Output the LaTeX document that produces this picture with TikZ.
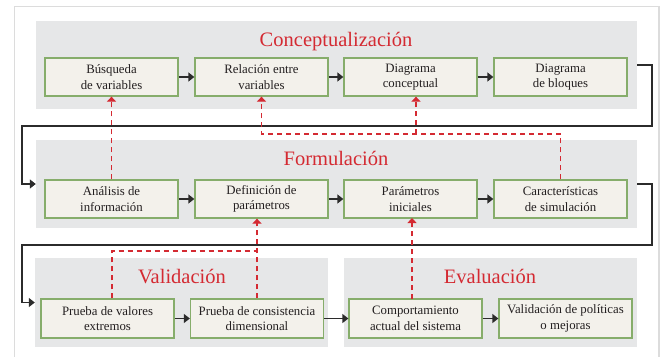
\documentclass[tikz,border=0pt]{standalone}
\usepackage{fontspec}
\setmainfont{Liberation Serif}
\usetikzlibrary{arrows.meta}
\definecolor{panelgray}{HTML}{E6E7E8}
\definecolor{boxfill}{HTML}{F3F1EB}
\definecolor{boxgreen}{HTML}{86AD6B}
\definecolor{titlered}{HTML}{D42A32}
\definecolor{framegray}{HTML}{DCDCDC}
\definecolor{linedark}{HTML}{2B2B2B}
\definecolor{textdark}{HTML}{231F20}
\begin{document}
\begin{tikzpicture}[x=1pt,y=-1pt,
  panel/.style={fill=panelgray, draw=none, inner sep=0pt},
  stepbox/.style={draw=boxgreen, fill=boxfill, line width=1.3pt, minimum width=133pt, minimum height=38pt, inner sep=0pt, align=center, font=\fontsize{12.8}{15.5}\selectfont, text=textdark},
  title/.style={text=titlered, font=\fontsize{20.5}{24}\selectfont, inner sep=0pt, anchor=base},
  flow/.style={draw=linedark, line width=1.3pt, -{Triangle[length=6pt,width=9pt]}},
  feedline/.style={draw=titlered, line width=1.2pt, dash pattern=on 5pt off 4pt},
  feedback/.style={feedline, -{Triangle[length=5pt,width=9pt]}},
]
\useasboundingbox (0,0) rectangle (660,356);
\draw[framegray, line width=1.5pt] (14.5,358) -- (14.5,6.5) -- (659,6.5) -- (659,358);

% panels
\node[panel, minimum width=601pt, minimum height=88pt] (p1) at (336.5,65) {};
\node[panel, minimum width=601pt, minimum height=88pt] (p2) at (336.5,184) {};
\node[panel, minimum width=293pt, minimum height=89pt] (p3) at (181.5,302.5) {};
\node[panel, minimum width=293pt, minimum height=89pt] (p4) at (490.5,302.5) {};

% titles
\node[title] (t1) at (336,46.5) {Conceptualización};
\node[title] (t2) at (336,165) {Formulación};
\node[title] (t3) at (182,283.3) {Validación};
\node[title] (t4) at (490,283.3) {Evaluación};

% row 1
\node[stepbox] (a1) at (111.5,77) {Búsqueda\\de variables};
\node[stepbox] (a2) at (261.5,77) {Relación entre\\variables};
\node[stepbox] (a3) at (410.5,77) {Diagrama\\conceptual};
\node[stepbox] (a4) at (560.5,77) {Diagrama\\de bloques};

% row 2
\node[stepbox] (b1) at (111.5,199) {Análisis de\\información};
\node[stepbox] (b2) at (261.5,199) {Definición de\\parámetros};
\node[stepbox] (b3) at (410.5,199) {Parámetros\\iniciales};
\node[stepbox] (b4) at (560.5,199) {Características\\de simulación};

% row 3
\node[stepbox, minimum height=39pt] (c1) at (107.5,318.5) {Prueba de valores\\extremos};
\node[stepbox, minimum height=39pt] (c2) at (257,318.5) {Prueba de consistencia\\dimensional};
\node[stepbox, minimum height=39pt] (c3) at (415.5,318.5) {Comportamiento\\actual del sistema};
\node[stepbox, minimum height=39pt] (c4) at (565.5,318.5) {Validación de políticas\\o mejoras};

% flow arrows
\draw[flow] (a1) -- (a2);
\draw[flow] (a2) -- (a3);
\draw[flow] (a3) -- (a4);
\draw[flow] (b1) -- (b2);
\draw[flow] (b2) -- (b3);
\draw[flow] (b3) -- (b4);
\draw[flow] (c1) -- (c2);
\draw[flow] (c2) -- (c3);
\draw[flow] (c3) -- (c4);

\coordinate (r1) at (652,126);
\coordinate (l1) at (22,126);
\coordinate (r2) at (652,245);
\coordinate (l2) at (22,245);
\draw[flow] (p1.east) -| (r1) -- (l1) |- (p2.west);
\draw[flow] (p2.east) -| (r2) -- (l2) |- (p3.west);

% feedback
\coordinate (j1) at (261.5,134);
\coordinate (j2) at (560.5,134);
\coordinate (j3) at (416,134);
\coordinate (k1) at (112,251);
\coordinate (k2) at (257,251);

\draw[feedback] (b1.north) -- (a1.south);
\draw[feedback] (b4.north) -- (j2) -- (j1) -- (a2.south);
\draw[feedback] (j3) -- (j3 |- a3.south);
\draw[feedline] (k1 |- c1.north) -- (k1) -- (k2);
\draw[feedback] (c2.north) -- (c2.north |- b2.south);
\draw[feedback] (412,299) -- (412,218);
\end{tikzpicture}
\end{document}
